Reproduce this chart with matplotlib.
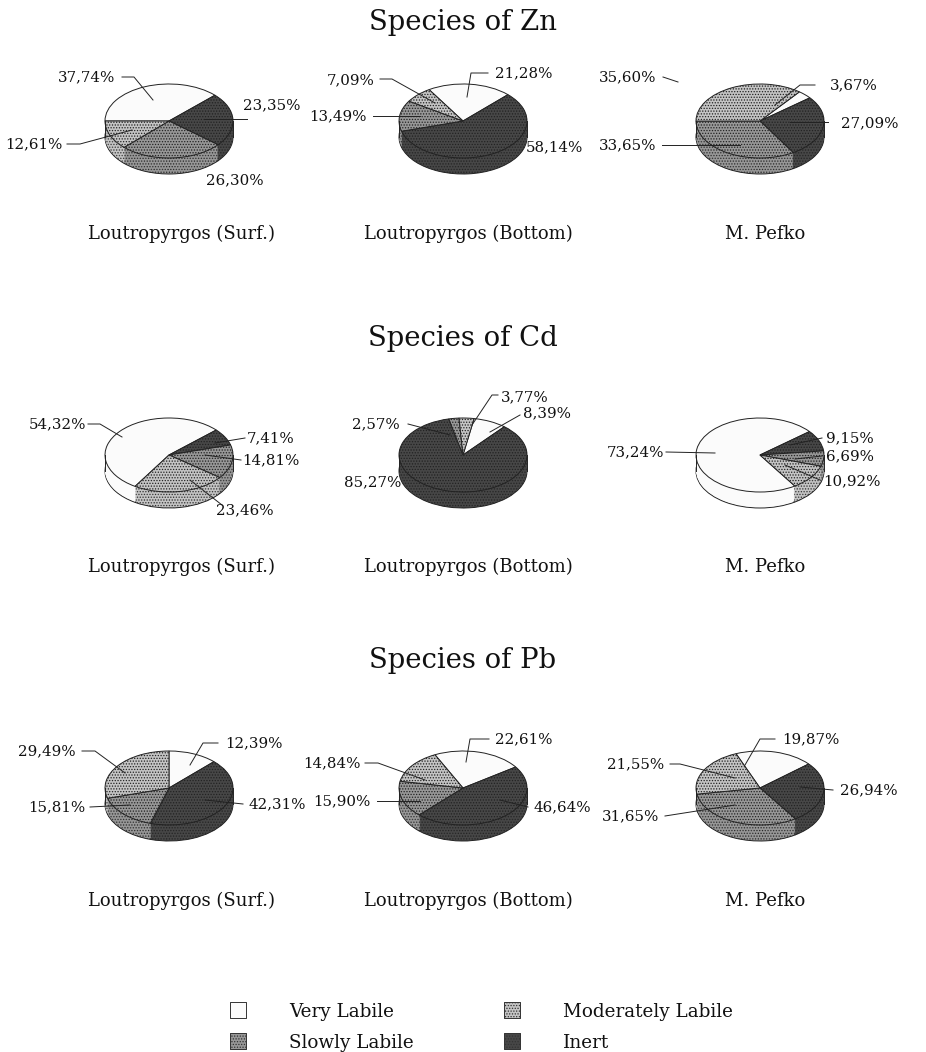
import matplotlib
matplotlib.use('Agg')
import matplotlib.pyplot as plt

W, H = 926, 1052
plt.rcParams['font.family'] = ['DejaVu Serif']
plt.rcParams['hatch.linewidth'] = 0.6

# values run clockwise: very labile, inert, slowly labile, moderately labile
SPECIES = ["Very Labile", "Inert", "Slowly Labile", "Moderately Labile"]
SITES = ["Loutropyrgos (Surf.)", "Loutropyrgos (Bottom)", "M. Pefko"]
METALS = ["Zn", "Cd", "Pb"]

zn_surf = [37.74, 23.35, 26.30, 12.61]
zn_bottom = [21.28, 58.14, 13.49, 7.09]
zn_pefko = [3.67, 27.09, 33.65, 35.60]
cd_surf = [54.32, 7.41, 14.81, 23.46]
cd_bottom = [8.39, 85.27, 2.57, 3.77]
cd_pefko = [73.24, 9.15, 6.69, 10.92]
pb_surf = [12.39, 42.31, 15.81, 29.49]
pb_bottom = [22.61, 46.64, 15.90, 14.84]
pb_pefko = [19.87, 26.94, 31.65, 21.55]

VALUES = [[zn_surf, zn_bottom, zn_pefko],
          [cd_surf, cd_bottom, cd_pefko],
          [pb_surf, pb_bottom, pb_pefko]]
START = [[180, 122, 52], [238, 80, 303], [90, 116, 112]]

COLORS = {"Very Labile": "#fbfbfb", "Moderately Labile": "#c4c4c4",
          "Slowly Labile": "#979797", "Inert": "#474747"}
HATCH = {"Very Labile": None, "Moderately Labile": "......",
         "Slowly Labile": "......", "Inert": "......"}

PIE_X = [169, 463, 760]
PIE_Y = [121, 455, 788]
RX, RY, DEPTH = 64, 37, 16
SITE_X = [181, 468, 765]
SITE_Y = [233, 566, 900]
TITLE_Y = [19, 335, 658]

# label text position plus leader line points, same order as the values
LABELS = [
    [[(87, 77, [(122, 77), (134, 77), (153, 100)]), (272, 105, [(247, 119), (204, 119)]),
      (235, 180, []), (34, 144, [(67, 144), (80, 144), (132, 130)])],
     [(524, 73, [(488, 73), (471, 73), (467, 97)]), (554, 147, []),
      (338, 116, [(373, 116), (420, 116)]), (351, 80, [(380, 79), (392, 79), (435, 103)])],
     [(854, 85, [(815, 85), (800, 85), (775, 105)]), (870, 123, [(828, 122), (790, 122)]),
      (628, 145, [(662, 145), (740, 145)]), (628, 77, [(663, 77), (678, 82)])]],
    [[(57, 424, [(88, 424), (100, 424), (122, 437)]), (271, 438, [(245, 438), (215, 443)]),
      (271, 460, [(241, 460), (205, 455)]), (245, 510, [(222, 505), (190, 480)])],
     [(547, 413, [(520, 415), (490, 432)]), (373, 482, []),
      (376, 424, [(408, 424), (450, 435)]), (525, 397, [(498, 395), (492, 395), (472, 425)])],
     [(636, 452, [(666, 452), (715, 453)]), (850, 438, [(822, 438), (790, 445)]),
      (850, 456, [(822, 456), (795, 459)]), (852, 481, [(820, 480), (785, 465)])]],
    [[(254, 743, [(218, 743), (203, 743), (190, 765)]), (277, 804, [(243, 804), (205, 800)]),
      (57, 807, [(90, 807), (130, 805)]), (47, 751, [(82, 751), (95, 751), (125, 773)])],
     [(524, 739, [(489, 739), (470, 739), (466, 762)]), (562, 807, [(528, 807), (500, 800)]),
      (342, 801, [(377, 801), (420, 801)]), (332, 763, [(365, 763), (378, 763), (425, 780)])],
     [(811, 739, [(775, 739), (760, 739), (745, 765)]), (869, 790, [(833, 790), (800, 787)]),
      (631, 816, [(665, 816), (735, 805)]), (636, 764, [(670, 764), (680, 764), (735, 778)])]],
]

LEGEND_POS = {"Very Labile": (238, 1010), "Moderately Labile": (512, 1010),
              "Slowly Labile": (238, 1041), "Inert": (512, 1041)}
LEGEND_TEXT_X = {238: 289, 512: 563}


def fmt(v):
    return f"{v:.2f}%".replace('.', ',')


def pie_3d(fig, values, start, cx, cy):
    ax = fig.add_axes([(cx - RX) / W, 1 - (cy + RY + DEPTH) / H,
                       2 * RX / W, (2 * RY + DEPTH) / H])
    colors = [COLORS[s] for s in SPECIES]
    hatches = [HATCH[s] for s in SPECIES]
    step = 1 / RY
    for i in range(DEPTH, -1, -1):
        edge = i in (0, DEPTH)
        wedges, _ = ax.pie(values, colors=colors, startangle=start, counterclock=False,
                           radius=1, center=(0, -i * step), normalize=True,
                           wedgeprops={'edgecolor': '#222222',
                                       'linewidth': 0.7 if edge else 0})
        for w, h in zip(wedges, hatches):
            w.set_hatch(h)
            w.set_clip_on(False)
    ax.set_aspect('auto')
    ax.set_xlim(-1, 1)
    ax.set_ylim(-1 - DEPTH * step, 1)
    # outer edges of the side wall
    ax.plot([-1, -1], [0, -DEPTH * step], color='#222222', lw=0.7, clip_on=False)
    ax.plot([1, 1], [0, -DEPTH * step], color='#222222', lw=0.7, clip_on=False)
    ax.axis('off')


def main():
    fig = plt.figure(figsize=(W / 100, H / 100), dpi=100, facecolor='white')

    for r, row in enumerate(VALUES):
        for c, values in enumerate(row):
            pie_3d(fig, values, START[r][c], PIE_X[c], PIE_Y[r])

    over = fig.add_axes([0, 0, 1, 1], zorder=10)
    over.set_xlim(0, W)
    over.set_ylim(H, 0)
    over.axis('off')

    for r, metal in enumerate(METALS):
        over.text(463, TITLE_Y[r], f"Species of {metal}", ha='center', va='center_baseline',
                  fontsize=19.8, color='#111111')
        for c, site in enumerate(SITES):
            over.text(SITE_X[c], SITE_Y[r] - 1, site, ha='center', va='center_baseline',
                      fontsize=13, color='#111111')
            for v, (tx, ty, leader) in zip(VALUES[r][c], LABELS[r][c]):
                over.text(tx, ty, fmt(v), ha='center', va='center', fontsize=10.8,
                          color='#111111')
                if leader:
                    over.plot([p[0] for p in leader], [p[1] for p in leader],
                              color='#222222', lw=0.7)

    for name, (x, y) in LEGEND_POS.items():
        over.scatter([x], [y], s=120, marker='s', facecolor=COLORS[name],
                     edgecolor='#333333', linewidth=0.7, hatch=HATCH[name])
        over.text(LEGEND_TEXT_X[x], y, name, ha='left', va='center_baseline', fontsize=13.2,
                  color='#111111')

    fig.savefig('out.png', dpi=100)


if __name__ == '__main__':
    main()
